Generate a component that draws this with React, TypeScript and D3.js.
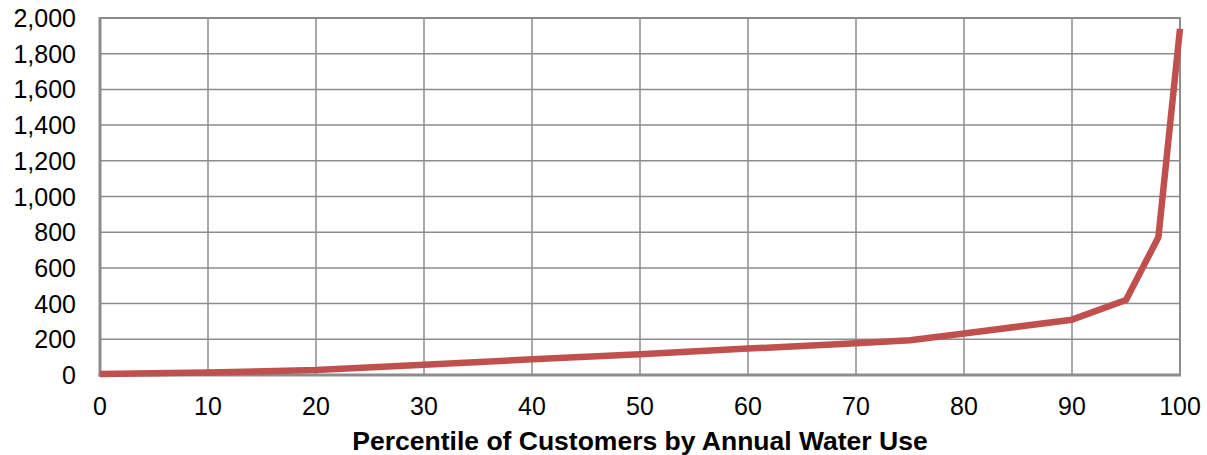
import React from "react";
import * as d3 from "d3";

const percentiles = [0, 10, 20, 30, 40, 50, 60, 70, 75, 80, 90, 95, 98, 100];
const waterUse = [5, 14, 28, 58, 88, 116, 148, 178, 195, 232, 310, 420, 772, 1940];
const xTicks = [0, 10, 20, 30, 40, 50, 60, 70, 80, 90, 100];
const yTicks = [0, 200, 400, 600, 800, 1000, 1200, 1400, 1600, 1800, 2000];
const xTitle = "Percentile of Customers by Annual Water Use";

const W = 1207;
const H = 455;
const m = { left: 100, right: 27, top: 18, bottom: 80 };

export default function App() {
  const x = d3.scaleLinear().domain([0, 100]).range([m.left, W - m.right]);
  const y = d3.scaleLinear().domain([0, 2000]).range([H - m.bottom, m.top]);
  const line = d3
    .line<number>()
    .x((_, i) => x(percentiles[i]))
    .y((d) => y(d));
  const fmt = d3.format(",");
  const font = "'Liberation Sans', Arial, sans-serif";
  const grid = "#8c8c8c";
  return (
    <svg
      width={W}
      height={H}
      style={{ position: "absolute", left: 0, top: 0, background: "#fff" }}
      fontFamily={font}
    >
      {yTicks.map((t) => (
        <line key={"gy" + t} x1={x(0)} x2={x(100)} y1={y(t)} y2={y(t)} stroke={grid} strokeWidth={1.5} />
      ))}
      {xTicks.map((t) => (
        <line key={"gx" + t} x1={x(t)} x2={x(t)} y1={y(0)} y2={y(2000)} stroke={grid} strokeWidth={1.5} />
      ))}
      <rect
        x={x(0)}
        y={y(2000)}
        width={x(100) - x(0)}
        height={y(0) - y(2000)}
        fill="none"
        stroke={grid}
        strokeWidth={2}
      />
      <line x1={x(0)} x2={x(0)} y1={y(2000) - 1} y2={y(0) + 1.5} stroke={grid} strokeWidth={3} />
      <line x1={x(0) - 1.5} x2={x(100) + 1} y1={y(0)} y2={y(0)} stroke={grid} strokeWidth={3} />
      <path d={line(waterUse) || ""} fill="none" stroke="#C0504D" strokeWidth={6.5} strokeLinejoin="round" />
      {yTicks.map((t) => (
        <text key={"ty" + t} x={76} y={y(t)} dy="0.36em" textAnchor="end" fontSize={25} fill="#000">
          {fmt(t)}
        </text>
      ))}
      {xTicks.map((t) => (
        <text key={"tx" + t} x={x(t)} y={415} textAnchor="middle" fontSize={25} fill="#000">
          {t}
        </text>
      ))}
      <text x={640} y={450} textAnchor="middle" fontSize={26.5} fontWeight="bold" fill="#000">
        {xTitle}
      </text>
    </svg>
  );
}
